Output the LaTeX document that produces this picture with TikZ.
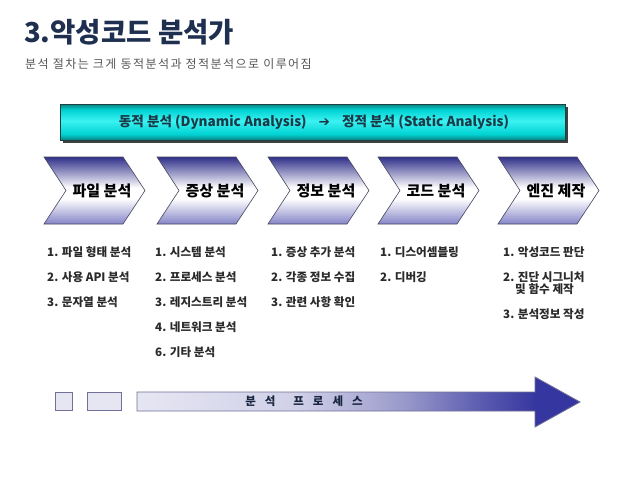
\documentclass[tikz,border=0pt]{standalone}
\usepackage{fontspec}
\newfontfamily\kr{Noto Sans CJK KR}
\newfontfamily\dv{DejaVu Sans}
\definecolor{titlec}{HTML}{1F2F4F}
\definecolor{subc}{HTML}{555555}
\definecolor{listc}{HTML}{2A2A2A}
\definecolor{chevtop}{HTML}{30308A}
\definecolor{chevbot}{HTML}{8585C8}
\definecolor{chevline}{HTML}{45455E}
\definecolor{tedge}{HTML}{0A8080}
\definecolor{tmid}{HTML}{00D2D2}
\definecolor{thigh}{HTML}{3CF2F2}
\definecolor{tline}{HTML}{1A4040}
\definecolor{ttext}{HTML}{1A3A48}
\definecolor{pA}{HTML}{E6E6F3}
\definecolor{pB}{HTML}{D0D0E8}
\definecolor{pC}{HTML}{9A9ACB}
\definecolor{pD}{HTML}{5A5AB0}
\definecolor{pE}{HTML}{3636A0}
\definecolor{pline}{HTML}{707098}
\pgfdeclareverticalshading{chevshade}{100bp}{color(0bp)=(chevbot); color(25bp)=(chevbot); color(44bp)=(white); color(52bp)=(white); color(75bp)=(chevtop); color(100bp)=(chevtop)}
\pgfdeclareverticalshading{tealshade}{100bp}{color(0bp)=(tedge); color(25bp)=(tedge); color(33bp)=(tmid); color(52bp)=(thigh); color(67bp)=(tmid); color(75bp)=(tedge); color(100bp)=(tedge)}
\pgfdeclarehorizontalshading{procshade}{100bp}{color(0bp)=(pA); color(25bp)=(pA); color(43bp)=(pB); color(55bp)=(pC); color(64bp)=(pD); color(70bp)=(pE); color(100bp)=(pE)}
\tikzset{
  chev/.style={shading=chevshade, draw=chevline, line width=0.6pt},
  chevtext/.style={font=\kr\bfseries\fontsize{15}{16}\selectfont, text=black, inner sep=0pt},
  listtext/.style={font=\kr\bfseries\fontsize{11.6}{12}\selectfont, text=listc, anchor=west, inner sep=0pt},
  smallbox/.style={fill=pA, draw=pline, line width=0.8pt},
}
\begin{document}
\begin{tikzpicture}[x=1pt,y=-1pt]
\useasboundingbox (0,0) rectangle (638,479);
\fill[white] (0,0) rectangle (638,479);
% title
\node[anchor=west, inner sep=0pt, text=titlec, font=\kr\bfseries\fontsize{27.5}{30}\selectfont] (title) at (24,32) {3.악성코드 분석가};
\node[anchor=west, inner sep=0pt, text=subc, font=\kr\fontsize{12}{13}\selectfont\addfontfeatures{LetterSpace=12}] (sub) at (25,64) {분석 절차는 크게 동적분석과 정적분석으로 이루어짐};
% teal bar
\fill[black!75] (63,107) rectangle (568,143);
\path[shading=tealshade, draw=tline, line width=0.6pt] (60,104) rectangle (565,140);
\node[inner sep=0pt, text=ttext, font=\kr\bfseries\fontsize{13.6}{14}\selectfont] (bar) at (314,122) {동적 분석 (Dynamic Analysis)\hspace{12pt}{\dv ➔}\hspace{12pt}정적 분석 (Static Analysis)};
% chevrons
\foreach \L/\t/\n in {44/파일 분석/c1, 157/증상 분석/c2, 268/정보 분석/c3, 378/코드 분석/c4, 498/엔진 제작/c5}{
  \path[chev] (\L,157) -- (\L+79,157) -- (\L+101,190.5) -- (\L+79,224) -- (\L,224) -- (\L+22,190.5) -- cycle;
  \node[chevtext] (\n) at (\L+58,190.5) {\t};
}
% lists
\node[listtext] (a1) at (47,252) {1. 파일 형태 분석};
\node[listtext] (a2) at (47,277) {2. 사용 API 분석};
\node[listtext] (a3) at (47,302) {3. 문자열 분석};
\node[listtext] (b1) at (155,252) {1. 시스템 분석};
\node[listtext] (b2) at (155,277) {2. 프로세스 분석};
\node[listtext] (b3) at (155,302) {3. 레지스트리 분석};
\node[listtext] (b4) at (155,327) {4. 네트워크 분석};
\node[listtext] (b5) at (155,352) {6. 기타 분석};
\node[listtext] (d1) at (271,252) {1. 증상 추가 분석};
\node[listtext] (d2) at (271,277) {2. 각종 정보 수집};
\node[listtext] (d3) at (271,302) {3. 관련 사항 확인};
\node[listtext] (e1) at (380,252) {1. 디스어셈블링};
\node[listtext] (e2) at (380,277) {2. 디버깅};
\node[listtext] (f1) at (503,252) {1. 악성코드 판단};
\node[listtext] (f2) at (503,277) {2. 진단 시그니처};
\node[listtext] (f2b) at (515,289.5) {및 함수 제작};
\node[listtext] (f3) at (503,314) {3. 분석정보 작성};
% bottom process arrow
\path[smallbox] (55,392) rectangle (72,410);
\path[smallbox] (87,392) rectangle (121,410);
\path[shading=procshade, draw=pline, line width=0.8pt] (137,392) -- (535,392) -- (535,377) -- (580,402) -- (535,427) -- (535,411) -- (137,411) -- cycle;
\node[inner sep=0pt, text=titlec!80!black, font=\kr\bfseries\fontsize{11.5}{12}\selectfont] (proc) at (304,401.5) {분\hspace{9pt}석\hspace{18pt}프\hspace{9pt}로\hspace{9pt}세\hspace{9pt}스};
\end{tikzpicture}
\end{document}
